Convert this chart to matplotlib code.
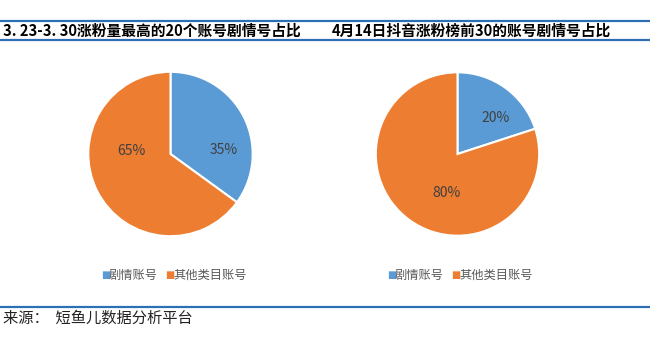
import matplotlib
matplotlib.use("Agg")
import matplotlib.pyplot as plt
from matplotlib.lines import Line2D

plt.rcParams['font.family'] = ['Noto Sans CJK SC', 'DejaVu Sans']

# 数据
categories = ["剧情账号", "其他类目账号"]
share_left = [35, 65]
share_right = [20, 80]
titles = ["3. 23-3. 30涨粉量最高的20个账号剧情号占比", "4月14日抖音涨粉榜前30的账号剧情号占比"]
source = "来源：  短鱼儿数据分析平台"

colors = ["#5B9BD5", "#ED7D31"]
line_color = "#2E6FB3"

W, H = 650, 349
fig = plt.figure(figsize=(W / 100, H / 100), dpi=100)


def fy(y):
    # пиксели сверху -> координаты фигуры
    return 1 - y / H


# синие линии
for y in (20.5, 40, 306.5):
    fig.add_artist(Line2D([0, 1], [fy(y), fy(y)], color=line_color, lw=1.6,
                          transform=fig.transFigure))

fig.text(3 / W, fy(31), titles[0], fontsize=10.6, fontweight="bold",
         color="black", va="center", ha="left")
fig.text(332 / W, fy(31), titles[1], fontsize=10.6, fontweight="bold",
         color="black", va="center", ha="left")
fig.text(3 / W, fy(318.5), source, fontsize=11, color="#222222",
         va="center", ha="left")

# pie: центр (px), радиус, позиции подписей в долях радиуса
pies = [
    (share_left, 170.5, 154, 83, [(0.645, 0.05), (-0.476, 0.036)], 101),
    (share_right, 457.5, 154, 82.5, [(0.467, 0.436), (-0.139, -0.473)], 387),
]

for vals, cx, cy, r, label_xy, leg_x in pies:
    ax = fig.add_axes([(cx - r) / W, (H - cy - r) / H, 2 * r / W, 2 * r / H])
    wedges, texts, autotexts = ax.pie(
        vals, colors=colors, startangle=90, counterclock=False,
        autopct="%d%%", radius=1,
        wedgeprops=dict(edgecolor="white", linewidth=1.5),
        textprops=dict(fontsize=10, color="#404040"))
    for t, (x, y) in zip(autotexts, label_xy):
        t.set_position((x, y))
    ax.set_xlim(-1.01, 1.01)
    ax.set_ylim(-1.01, 1.01)
    ax.set_aspect("auto")
    for w in wedges:
        w.set_clip_on(False)

    # легенда
    x = leg_x
    for cat, col in zip(categories, colors):
        fig.text(x / W, fy(275), "■", fontsize=7, color=col,
                 va="center", ha="left", family="DejaVu Sans")
        fig.text((x + 8) / W, fy(275), cat, fontsize=8.8, color="#595959",
                 va="center", ha="left")
        x += 64

fig.savefig("out.png", dpi=100, facecolor="white")
